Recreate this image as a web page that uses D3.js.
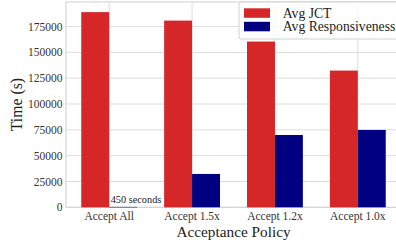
<!DOCTYPE html>
<html>
<head>
<meta charset="utf-8">
<script src="https://cdn.jsdelivr.net/npm/d3@7"></script>
<style>
  body { margin: 0; background: #fff; }
  svg { display: block; font-family: "Liberation Serif", "DejaVu Serif", serif; }
</style>
</head>
<body>
<svg id="chart" width="396" height="244"></svg>
<script>
const categories = ["Accept All", "Accept 1.5x", "Accept 1.2x", "Accept 1.0x"];
const seriesNames = ["Avg JCT", "Avg Responsiveness"];
const avgJCT = [189000, 180800, 160500, 132400];
const avgResp = [450, 32300, 70000, 74900];
const yTicks = [0, 25000, 50000, 75000, 100000, 125000, 150000, 175000];
const colors = ["#d62728", "#000080"];

const svg = d3.select("#chart");
const pLeft = 66, pRight = 401, pTop = 2, pBottom = 207.3;
const barW = 0.337;

const x = d3.scaleLinear().domain([-0.521, 3.521]).range([pLeft, pRight]);
const y = d3.scaleLinear().domain([0, 198800]).range([pBottom, pTop]);

// grid
const grid = svg.append("g").attr("stroke", "#dcdcdc").attr("stroke-width", 1);
yTicks.forEach(t => {
  grid.append("line").attr("x1", pLeft).attr("x2", pRight)
    .attr("y1", y(t)).attr("y2", y(t));
});
categories.forEach((c, i) => {
  grid.append("line").attr("x1", x(i)).attr("x2", x(i))
    .attr("y1", pTop).attr("y2", pBottom);
});

// frame
svg.append("rect").attr("x", pLeft).attr("y", pTop)
  .attr("width", pRight - pLeft).attr("height", pBottom - pTop)
  .attr("fill", "none").attr("stroke", "#d0d0d0").attr("stroke-width", 1);

// bars
[avgJCT, avgResp].forEach((vals, s) => {
  svg.append("g").selectAll("rect").data(vals).join("rect")
    .attr("x", (d, i) => x(i - barW + s * barW))
    .attr("width", x(barW) - x(0))
    .attr("y", d => y(d))
    .attr("height", d => Math.max(y(0) - y(d), 0.8))
    .attr("fill", colors[s])
    .attr("fill-opacity", (d, i) => (s === 1 && i === 0) ? 0.6 : 1);
});

// annotation
svg.append("text").attr("x", x(0) + 1.5).attr("y", 203)
  .attr("font-size", 10.3).attr("fill", "#222").text("450 seconds");

// y tick labels
svg.append("g").selectAll("text").data(yTicks).join("text")
  .attr("x", 62.5).attr("y", d => y(d)).attr("dy", "0.35em")
  .attr("text-anchor", "end").attr("font-size", 11.5).attr("fill", "#333")
  .text(d => d);

// x tick labels
svg.append("g").selectAll("text").data(categories).join("text")
  .attr("x", (d, i) => x(i)).attr("y", 219.5)
  .attr("text-anchor", "middle").attr("font-size", 11.5).attr("fill", "#333")
  .text(d => d);

// axis labels
svg.append("text").attr("x", (pLeft + pRight) / 2).attr("y", 237)
  .attr("text-anchor", "middle").attr("font-size", 15.3).attr("fill", "#222")
  .text("Acceptance Policy");
svg.append("text").attr("transform", `translate(21.5,${(pTop + pBottom) / 2}) rotate(-90)`)
  .attr("text-anchor", "middle").attr("font-size", 15.8).attr("fill", "#222")
  .text("Time (s)");

// legend
const lg = svg.append("g").attr("transform", "translate(239,2)");
lg.append("rect").attr("x", 0).attr("y", 0).attr("width", 170).attr("height", 37)
  .attr("rx", 2).attr("fill", "#fff").attr("fill-opacity", 0.8)
  .attr("stroke", "#d0d0d0");
seriesNames.forEach((n, i) => {
  lg.append("rect").attr("x", 5).attr("y", 6.3 + i * 13.5)
    .attr("width", 26).attr("height", 9.5).attr("fill", colors[i]);
  lg.append("text").attr("x", 43.7).attr("y", 11 + i * 13.5).attr("dy", "0.35em")
    .attr("font-size", 13.7).attr("fill", "#222").text(n);
});
</script>
</body>
</html>
